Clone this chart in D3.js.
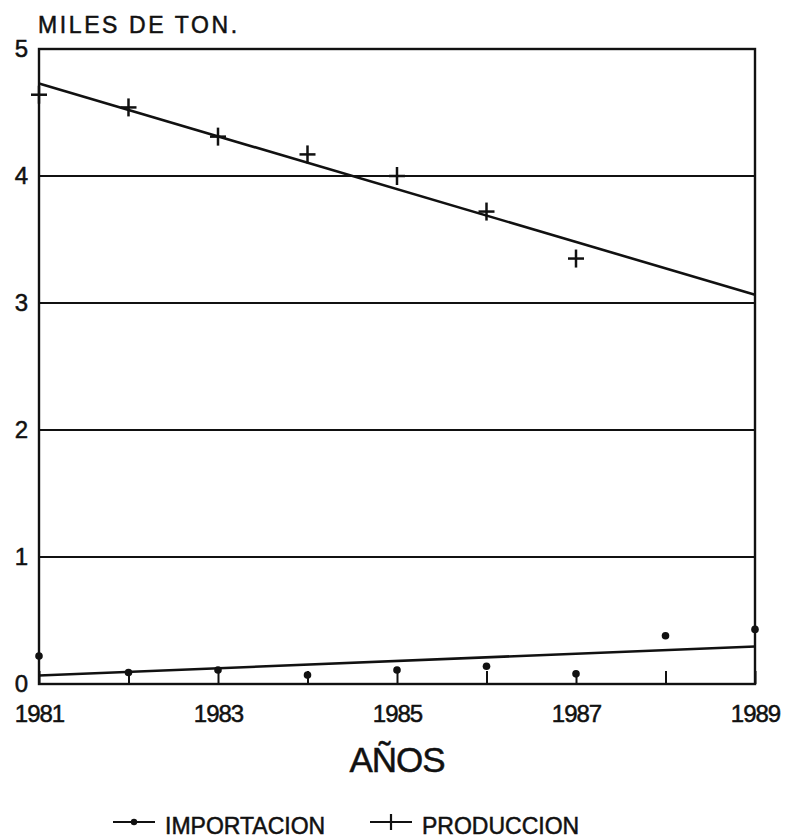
<!DOCTYPE html>
<html lang="es">
<head>
    <meta charset="UTF-8">
    <title>Produccion e importacion</title>
    <style>
        body { margin: 0; background: #fff; }
        text { font-family: "Liberation Sans", Arial, sans-serif; fill: #111; stroke: #111; stroke-width: 0.5px; }
        .grid line { stroke: #111; stroke-width: 2.2px; }
        .frame { fill: none; stroke: #111; stroke-width: 2.4px; }
        .trend { fill: none; stroke: #111; stroke-width: 2.6px; }
    </style>
    <script src="https://d3js.org/d3.v7.min.js"></script>
</head>
<body>
    <svg id="chart"></svg>

    <script>
        const years = [1981, 1982, 1983, 1984, 1985, 1986, 1987, 1988, 1989];
        const produccion = [4.64, 4.54, 4.31, 4.17, 4.00, 3.72, 3.35, null, null];
        const importacion = [0.22, 0.09, 0.11, 0.07, 0.11, 0.14, 0.08, 0.38, 0.43];
        const yTicks = [0, 1, 2, 3, 4, 5];
        const xLabels = [1981, 1983, 1985, 1987, 1989];

        const width = 787;
        const height = 838;
        const margin = {top: 49, right: 32, bottom: 154, left: 39};
        const innerW = width - margin.left - margin.right;
        const innerH = height - margin.top - margin.bottom;

        const svg = d3.select("#chart")
            .attr("width", width)
            .attr("height", height);

        const g = svg.append("g")
            .attr("transform", `translate(${margin.left},${margin.top})`);

        const x = d3.scaleLinear().domain([1981, 1989]).range([0, innerW]);
        const y = d3.scaleLinear().domain([0, 5]).range([innerH, 0]);

        // horizontal grid lines
        g.append("g")
            .attr("class", "grid")
            .selectAll("line")
            .data([1, 2, 3, 4])
            .enter().append("line")
            .attr("x1", 0)
            .attr("x2", innerW)
            .attr("y1", d => y(d))
            .attr("y2", d => y(d));

        // x axis: inward ticks every year, labels on odd years
        const xAxis = d3.axisBottom(x)
            .tickValues(years)
            .tickSizeInner(-13)
            .tickSizeOuter(0)
            .tickPadding(21)
            .tickFormat(d => xLabels.includes(d) ? d : "");

        const gx = g.append("g")
            .attr("transform", `translate(0,${innerH})`)
            .call(xAxis);
        gx.select(".domain").remove();
        gx.selectAll("line").attr("stroke", "#111").attr("stroke-width", 2);
        gx.selectAll("text")
            .attr("fill", "#111")
            .style("font-size", "24px")
            .style("letter-spacing", "-1px");

        // y axis labels
        const yAxis = d3.axisLeft(y)
            .tickValues(yTicks)
            .tickSize(0)
            .tickPadding(11)
            .tickFormat(d3.format("d"));

        const gy = g.append("g").call(yAxis);
        gy.select(".domain").remove();
        gy.selectAll("text")
            .attr("fill", "#111")
            .style("font-size", "24px");

        g.append("rect")
            .attr("class", "frame")
            .attr("x", 0)
            .attr("y", 0)
            .attr("width", innerW)
            .attr("height", innerH);

        // linear regression for trend lines
        function fit(xs, ys) {
            const pts = xs.map((v, i) => [v, ys[i]]).filter(p => p[1] != null);
            const mx = d3.mean(pts, p => p[0]);
            const my = d3.mean(pts, p => p[1]);
            const b = d3.sum(pts, p => (p[0] - mx) * (p[1] - my)) /
                d3.sum(pts, p => (p[0] - mx) * (p[0] - mx));
            return [[1981, my + b * (1981 - mx)], [1989, my + b * (1989 - mx)]];
        }

        const line = d3.line().x(d => x(d[0])).y(d => y(d[1]));

        g.append("path")
            .attr("class", "trend")
            .attr("d", line(fit(years, produccion)));

        g.append("path")
            .attr("class", "trend")
            .attr("d", line(fit(years, importacion)));

        // production markers (+)
        const prodPts = years.map((d, i) => ({year: d, v: produccion[i]})).filter(d => d.v != null);
        const plus = g.selectAll(".plus")
            .data(prodPts)
            .enter().append("g")
            .attr("class", "plus")
            .attr("transform", d => `translate(${x(d.year)},${y(d.v)})`);
        plus.append("line").attr("x1", -8).attr("x2", 8).attr("y1", 0).attr("y2", 0)
            .attr("stroke", "#111").attr("stroke-width", 2.5);
        plus.append("line").attr("x1", 0).attr("x2", 0).attr("y1", -9).attr("y2", 9)
            .attr("stroke", "#111").attr("stroke-width", 2.5);

        // import markers (dots)
        g.selectAll(".dot")
            .data(years.map((d, i) => ({year: d, v: importacion[i]})))
            .enter().append("circle")
            .attr("class", "dot")
            .attr("cx", d => x(d.year))
            .attr("cy", d => y(d.v))
            .attr("r", 3.8)
            .attr("fill", "#111");

        // titles
        svg.append("text")
            .attr("x", 38)
            .attr("y", 33)
            .style("font-size", "23px")
            .style("letter-spacing", "2.6px")
            .text("MILES DE TON.");

        svg.append("text")
            .attr("x", margin.left + innerW / 2)
            .attr("y", 772)
            .attr("text-anchor", "middle")
            .style("font-size", "35px")
            .style("letter-spacing", "-1px")
            .text("AÑOS");

        // legend
        const legend = svg.append("g");
        const legItems = [
            {label: "IMPORTACION", x: 113, mark: "dot"},
            {label: "PRODUCCION", x: 370, mark: "plus"}
        ];
        const li = legend.selectAll("g")
            .data(legItems)
            .enter().append("g")
            .attr("transform", d => `translate(${d.x},822)`);
        li.append("line")
            .attr("x1", 0).attr("x2", 42)
            .attr("stroke", "#111").attr("stroke-width", 2.2);
        li.filter(d => d.mark === "dot").append("circle")
            .attr("cx", 21).attr("r", 3.2).attr("fill", "#111");
        li.filter(d => d.mark === "plus").append("line")
            .attr("x1", 21).attr("x2", 21).attr("y1", -8).attr("y2", 8)
            .attr("stroke", "#111").attr("stroke-width", 2.2);
        li.append("text")
            .attr("x", 52)
            .attr("y", 12)
            .style("font-size", "23px")
            .text(d => d.label);
    </script>
</body>
</html>
